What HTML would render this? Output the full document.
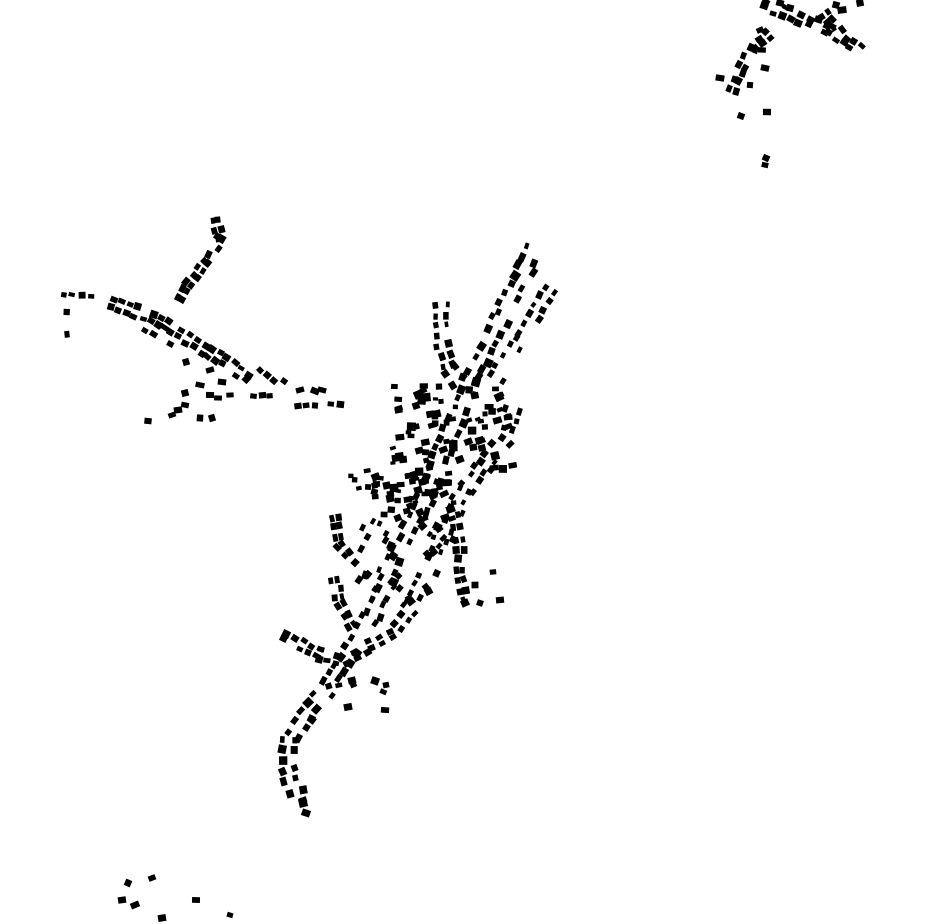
<!DOCTYPE html>
<html><head><meta charset="utf-8"><style>html,body{margin:0;padding:0;background:#fff}svg{display:block}</style></head>
<body>
<svg id="s" width="930" height="924" xmlns="http://www.w3.org/2000/svg"><rect width="930" height="924" fill="#fff"/><g id="g" fill="#000"></g></svg>
<script>
var g=document.getElementById('g');
var seed=12345;function r(){seed=(seed*16807)%2147483647;return (seed-1)/2147483646;}
function rect(x,y,w,h,a){var e=document.createElementNS('http://www.w3.org/2000/svg','rect');e.setAttribute('x',-w/2);e.setAttribute('y',-h/2);e.setAttribute('width',w);e.setAttribute('height',h);e.setAttribute('transform','translate('+x.toFixed(1)+','+y.toFixed(1)+') rotate('+a.toFixed(1)+')');g.appendChild(e);}
function line(pts,step,off,jit,smin,smax){
 for(var i=0;i<pts.length-1;i++){
  var x1=pts[i][0],y1=pts[i][1],x2=pts[i+1][0],y2=pts[i+1][1];
  var dx=x2-x1,dy=y2-y1,L=Math.sqrt(dx*dx+dy*dy),ux=dx/L,uy=dy/L,nx=-uy,ny=ux;
  var ang=Math.atan2(dy,dx)*180/Math.PI;
  for(var t=0;t<L;t+=step*(0.75+r()*0.5)){
   var sides=off>0?[-1,1]:[0];
   for(var k=0;k<sides.length;k++){
    if(r()<0.2)continue;
    var o=sides[k]*off+(r()-0.5)*jit;
    var w=smin+r()*(smax-smin),h=w*(0.65+r()*0.35);
    rect(x1+ux*t+nx*o,y1+uy*t+ny*o,w,h,ang+(r()-0.5)*16);
   }
  }
 }
}
function area(x0,y0,x1,y1,n,smin,smax,ang){for(var i=0;i<n;i++){var w=smin+r()*(smax-smin);rect(x0+r()*(x1-x0),y0+r()*(y1-y0),w,w*(0.6+r()*0.4),ang+(r()-0.5)*30);}}
function pts(a){for(var i=0;i<a.length;i+=2)rect(a[i],a[i+1],6+r()*3,5+r()*2,(r()-0.5)*50);}
// main spine
line([[535,250],[500,320],[470,380],[455,420],[432,480],[420,510],[395,560],[370,620],[345,660],[325,690],[305,715],[290,740],[288,770],[300,810]],11,7,5,6,9);
line([[550,290],[520,340],[495,380]],11,6,4,5,8);
line([[512,410],[505,440],[480,470],[465,490],[445,530],[430,570],[410,610],[395,630]],11,6,5,5,8);
line([[440,305],[443,345],[450,370],[462,385]],11,6,4,5,8);
area(390,385,515,470,70,5,9,-10);
area(375,470,455,520,35,5,9,-10);
area(345,470,440,500,20,5,8,0);
line([[335,518],[340,545],[352,560]],10,3,3,6,8);
area(355,520,400,600,22,5,8,-60);
line([[335,580],[340,605],[352,625]],10,3,3,6,8);
line([[455,515],[460,550],[460,580],[465,600]],11,3,3,6,8);
area(420,520,455,560,10,5,8,-50);
line([[410,600],[435,585]],10,3,2,6,8);
line([[285,636],[320,655],[345,660],[370,645],[395,632]],10,4,4,6,8);
line([[330,690],[360,680],[385,690]],12,3,4,6,8);
pts([475,585,493,572,465,603,480,603,500,600,348,707,385,710,386,685,303,800,306,813]);
// left cluster
line([[216,220],[220,238],[206,262],[185,290],[178,302]],10,3,3,6,8);
line([[64,294],[98,297]],9,0,2,5,7);line([[67,312],[68,345]],11,0,2,5,7);
line([[113,302],[160,322],[210,352],[248,378]],9,4,4,6,8);
line([[145,330],[175,346]],9,0,2,6,8);
line([[230,395],[275,396]],8,0,2,6,8);
line([[262,368],[282,385]],7,3,3,5,7);
line([[298,405],[342,404]],8,0,2,6,8);
pts([186,362,210,370,200,385,222,382,210,395,218,398,185,393,185,405,178,410,172,415,148,421,200,418,212,418,300,390,315,391,322,390]);
// top-right
line([[765,4],[800,18],[830,30],[866,56]],9,4,4,6,8);
line([[820,8],[845,40]],9,3,3,6,8);
line([[768,35],[752,48],[740,72],[732,92]],10,3,3,6,8);
pts([760,30,720,78,750,85,762,50,765,68,767,112,741,116,766,158,765,165,836,5,842,10,860,3,790,8,780,3]);
// bottom-left
pts([128,883,135,905,152,878,122,900,162,918,196,900,230,915]);
</script>
</body></html>
